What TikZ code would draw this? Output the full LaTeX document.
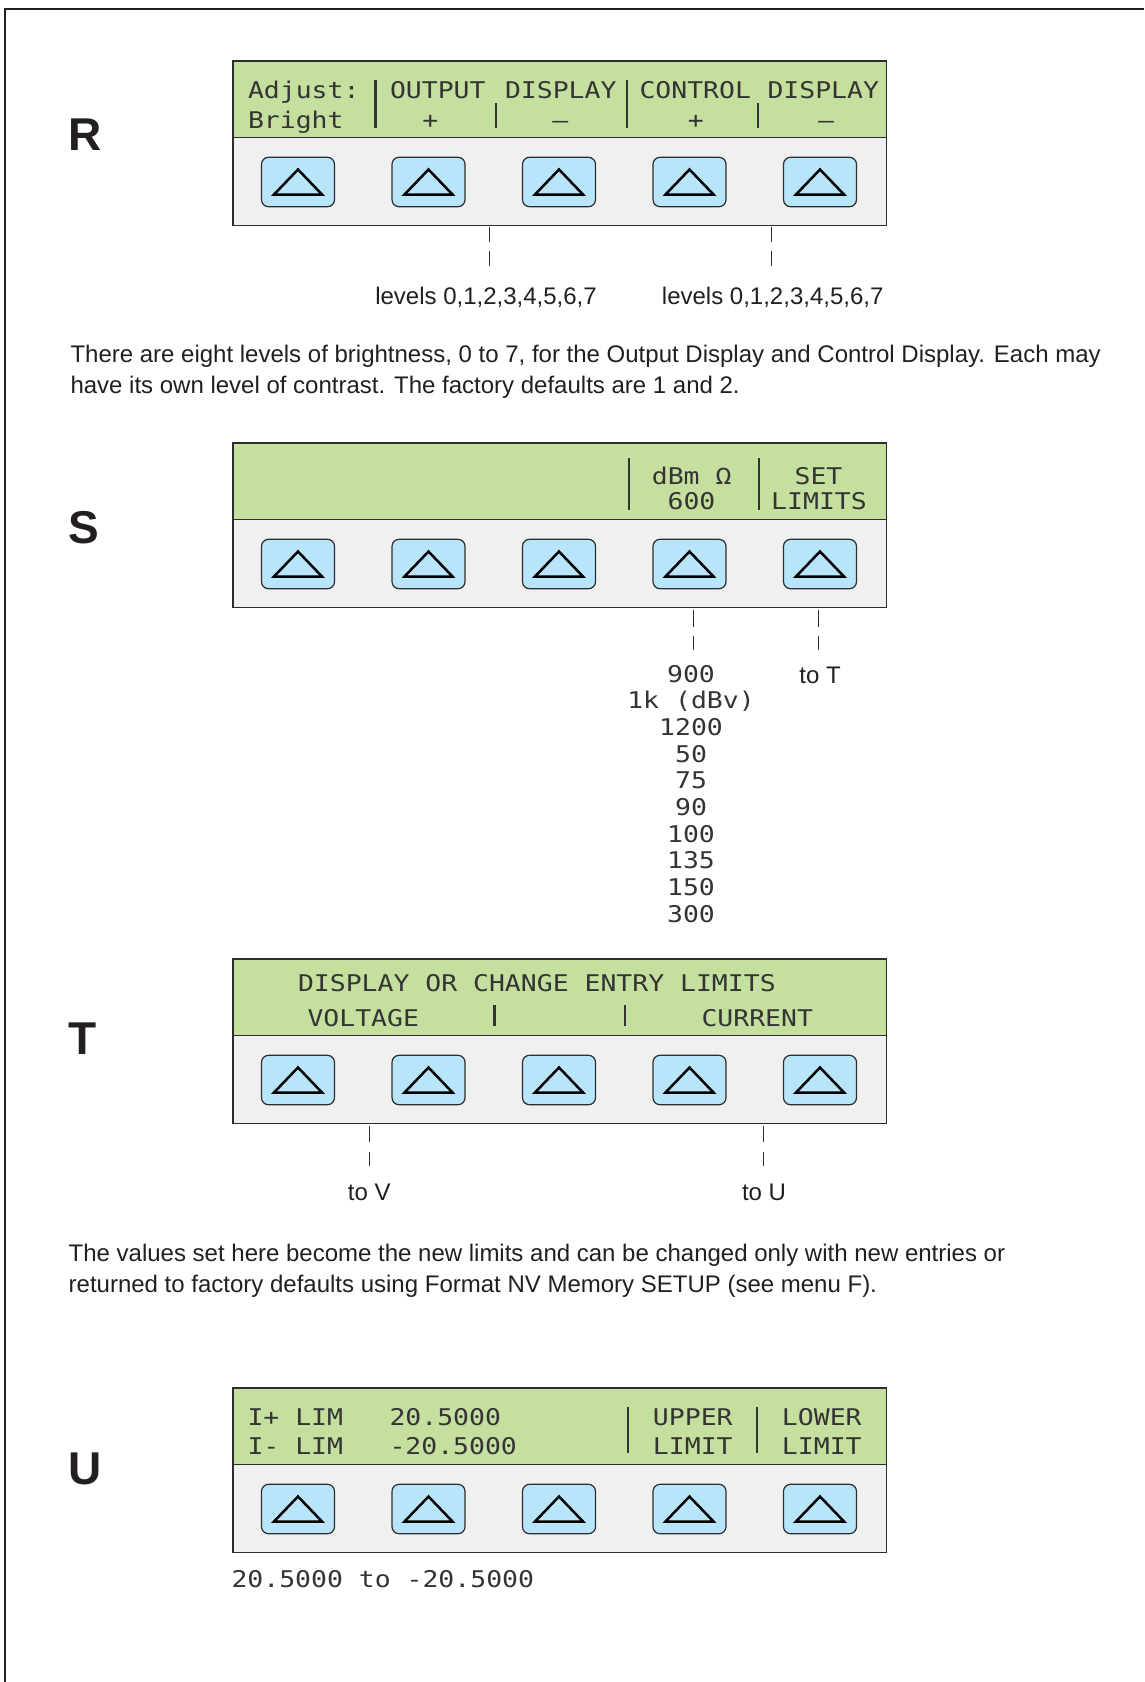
\documentclass[tikz,border=0pt]{standalone}
\usepackage{fontspec}
\setmainfont{Liberation Sans}
\newfontfamily\lcdfont[FakeStretch=1.15]{DejaVu Sans Mono}
\definecolor{lcdgreen}{RGB}{197,223,158}
\definecolor{padgray}{RGB}{240,240,240}
\definecolor{btnblue}{RGB}{185,229,250}
\definecolor{ink}{RGB}{35,31,32}
\definecolor{lcdink}{RGB}{52,52,52}
\definecolor{edge}{RGB}{45,45,45}
\tikzset{
  frameline/.style={draw=ink, line width=1.5pt},
  lcdband/.style={draw=edge, fill=lcdgreen, line width=1.5pt, minimum width=653.5pt, minimum height=76.5pt, inner sep=0pt, outer sep=0pt},
  padbox/.style={draw=edge, fill=padgray, line width=1.5pt, minimum width=653.5pt, minimum height=88pt, inner sep=0pt, outer sep=0pt},
  keybtn/.style={draw=edge, fill=btnblue, rounded corners=7pt, minimum width=73pt, minimum height=49.4pt, inner sep=0pt, line width=1.2pt},
  keytri/.style={draw=black, line width=2.5pt, line join=miter},
  lcdsep/.style={draw=lcdink, line width=2.2pt},
  tickline/.style={draw=edge, line width=1.1pt},
  lcdtxt/.style={font=\lcdfont\fontsize{23}{27}\selectfont, text=lcdink, inner sep=0pt, outer sep=0pt},
  bodytxt/.style={font=\fontsize{24}{28}\selectfont, text=ink, inner sep=0pt, outer sep=0pt},
  bigletter/.style={font=\fontsize{46}{50}\selectfont\bfseries, text=ink, inner sep=0pt, anchor=base west},
}
\newcommand\lcdpanel[2]{%
  \node[lcdband, anchor=north west] (#1lcd) at (233,#2) {};
  \node[padbox, anchor=north west] (#1pad) at (233,#2+76.5) {};
  \foreach \i/\bx in {1/298,2/428.5,3/559,4/689.5,5/820}{%
    \node[keybtn] (#1b\i) at (\bx,#2+121) {};
    \draw[keytri] (#1b\i.center) ++(-24,12.5) -- ++(24,-25) -- ++(24,25) -- cycle;
  }%
}
\begin{document}
\begin{tikzpicture}[x=1pt,y=-1pt]
\useasboundingbox (0,0) rectangle (1144,1682);
\fill[white] (0,0) rectangle (1144,1682);
\draw[frameline] (1144,9) -- (5,9) -- (5,1682);

% ---------------- R ----------------
\node[bigletter] (labR) at (68.5,150) {R};
\lcdpanel{R}{61}
\node[lcdtxt, anchor=base west] (rA1) at (248,98.3) {Adjust:};
\node[lcdtxt, anchor=base west] (rA2) at (248,128) {Bright};
\draw[lcdsep] (375.5,80) -- (375.5,128);
\node[lcdtxt, anchor=base west] (rO) at (390,98.3) {OUTPUT};
\node[lcdtxt, anchor=base] (rP1) at (430.3,128) {+};
\draw[lcdsep] (496,103) -- (496,128);
\node[lcdtxt, anchor=base west] (rD1) at (505,98.3) {DISPLAY};
\node[lcdtxt, anchor=base] (rM1) at (560.4,128) {–};
\draw[lcdsep] (627.3,80) -- (627.3,128);
\node[lcdtxt, anchor=base west] (rC) at (639.5,98.3) {CONTROL};
\node[lcdtxt, anchor=base] (rP2) at (695.8,128) {+};
\draw[lcdsep] (758.3,103) -- (758.3,128);
\node[lcdtxt, anchor=base west] (rD2) at (767.5,98.3) {DISPLAY};
\node[lcdtxt, anchor=base] (rM2) at (826,128) {–};

\coordinate (rt1a) at (489.4,227); \coordinate (rt1b) at (489.4,242);
\coordinate (rt1c) at (489.4,251); \coordinate (rt1d) at (489.4,266);
\coordinate (rt2a) at (771.6,227); \coordinate (rt2b) at (771.6,242);
\coordinate (rt2c) at (771.6,251); \coordinate (rt2d) at (771.6,266);
\draw[tickline] (rt1a) -- (rt1b); \draw[tickline] (rt1c) -- (rt1d);
\draw[tickline] (rt2a) -- (rt2b); \draw[tickline] (rt2c) -- (rt2d);
\node[bodytxt, anchor=base] (rlev1) at (486,304) {levels 0,1,2,3,4,5,6,7};
\node[bodytxt, anchor=base] (rlev2) at (772.7,304) {levels 0,1,2,3,4,5,6,7};

\node[bodytxt, anchor=base west] (par1a) at (70.5,362) {There are eight levels of brightness, 0 to 7, for the Output Display and Control Display. Each may};
\node[bodytxt, anchor=base west] (par1b) at (70.5,393) {have its own level of contrast. The factory defaults are 1 and 2.};

% ---------------- S ----------------
\node[bigletter] (labS) at (68.5,543.5) {S};
\lcdpanel{S}{443}
\draw[lcdsep] (629.3,458) -- (629.3,510);
\draw[lcdsep] (759,458) -- (759,510);
\node[lcdtxt, anchor=base] (sD1) at (691.7,484) {dBm Ω};
\node[lcdtxt, anchor=base] (sD2) at (691.5,509) {600};
\node[lcdtxt, anchor=base] (sL1) at (818.5,484) {SET};
\node[lcdtxt, anchor=base] (sL2) at (819,509) {LIMITS};

\coordinate (st1a) at (693.3,610); \coordinate (st1b) at (693.3,627);
\coordinate (st1c) at (693.3,636); \coordinate (st1d) at (693.3,650);
\coordinate (st2a) at (818.3,610); \coordinate (st2b) at (818.3,627);
\coordinate (st2c) at (818.3,636); \coordinate (st2d) at (818.3,650);
\draw[tickline] (st1a) -- (st1b); \draw[tickline] (st1c) -- (st1d);
\draw[tickline] (st2a) -- (st2b); \draw[tickline] (st2c) -- (st2d);
\foreach \k/\v in {0/900,1/1k (dBv),2/1200,3/50,4/75,5/90,6/100,7/135,8/150,9/300}{%
  \node[lcdtxt, anchor=base] (sv\k) at (691,682+\k*26.67) {\v};
}
\node[bodytxt, anchor=base] (toT) at (820,683) {to T};

% ---------------- T ----------------
\node[bigletter] (labT) at (68.5,1054.3) {T};
\lcdpanel{T}{959}
\node[lcdtxt, anchor=base west] (tH) at (298,991.7) {DISPLAY OR CHANGE ENTRY LIMITS};
\node[lcdtxt, anchor=base west] (tV) at (307.5,1026) {VOLTAGE};
\draw[lcdsep] (494.5,1005) -- (494.5,1026);
\draw[lcdsep] (624.6,1005) -- (624.6,1026);
\node[lcdtxt, anchor=base west] (tC) at (701.5,1026) {CURRENT};

\coordinate (tt1a) at (369.2,1126); \coordinate (tt1b) at (369.2,1142);
\coordinate (tt1c) at (369.2,1152); \coordinate (tt1d) at (369.2,1166);
\coordinate (tt2a) at (763.3,1126); \coordinate (tt2b) at (763.3,1142);
\coordinate (tt2c) at (763.3,1152); \coordinate (tt2d) at (763.3,1166);
\draw[tickline] (tt1a) -- (tt1b); \draw[tickline] (tt1c) -- (tt1d);
\draw[tickline] (tt2a) -- (tt2b); \draw[tickline] (tt2c) -- (tt2d);
\node[bodytxt, anchor=base] (toV) at (369.2,1200.5) {to V};
\node[bodytxt, anchor=base] (toU) at (764,1200.5) {to U};

\node[bodytxt, anchor=base west] (par2a) at (68.7,1261.5) {The values set here become the new limits and can be changed only with new entries or};
\node[bodytxt, anchor=base west] (par2b) at (68.7,1292.5) {returned to factory defaults using Format NV Memory SETUP (see menu F).};

% ---------------- U ----------------
\node[bigletter] (labU) at (68.5,1484.5) {U};
\lcdpanel{U}{1388}
\node[lcdtxt, anchor=base west] (uI1) at (247.5,1425) {I+ LIM};
\node[lcdtxt, anchor=base west] (uI2) at (247.5,1454) {I- LIM};
\node[lcdtxt, anchor=base west] (uV1) at (389.5,1425) {20.5000};
\node[lcdtxt, anchor=base west] (uV2) at (389.5,1454) {-20.5000};
\draw[lcdsep] (627.7,1406.7) -- (627.7,1453.3);
\draw[lcdsep] (756.9,1406.7) -- (756.9,1453.3);
\node[lcdtxt, anchor=base] (uU1) at (692.8,1425) {UPPER};
\node[lcdtxt, anchor=base] (uU2) at (692.8,1454) {LIMIT};
\node[lcdtxt, anchor=base] (uL1) at (821.8,1425) {LOWER};
\node[lcdtxt, anchor=base] (uL2) at (821.8,1454) {LIMIT};
\node[lcdtxt, anchor=base west] (uRange) at (231.5,1587) {20.5000 to -20.5000};
\end{tikzpicture}
\end{document}
